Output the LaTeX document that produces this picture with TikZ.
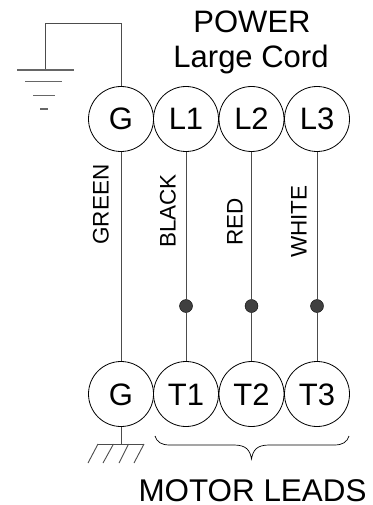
\documentclass[tikz,border=0pt]{standalone}
\usepackage{fontspec}
\setmainfont{Liberation Sans}
\usetikzlibrary{arrows.meta, positioning}

\begin{document}
\begin{tikzpicture}[
  x=1pt, y=-1pt,
  every node/.style={align=center},
  % Terminals - plain circles
  terminal/.style={circle, draw=black, line width=0.8pt, minimum size=65pt, inner sep=0pt, text height=22pt, text depth=0pt, font=\fontsize{31}{31}\selectfont},
  % Wires and ground strokes
  wire/.style={draw=black!70, line width=0.9pt},
  groundline/.style={draw=black!60, line width=1.1pt},
  % Junction dots
  joint/.style={circle, fill=black!75, draw=black, line width=0.4pt, minimum size=13pt, inner sep=0pt},
  wirelabel/.style={rotate=90, font=\fontsize{22.5}{22.5}\selectfont, inner sep=0pt},
  titlelabel/.style={anchor=base, font=\fontsize{31}{31}\selectfont, inner sep=0pt}
]
\useasboundingbox (0,0) rectangle (372,505);

% === NODES (Terminals) ===

% Power side
\node[terminal] (gtop) at (121, 119) {G};
\node[terminal] (l1) at (186, 119) {L1};
\node[terminal] (l2) at (251.5, 119) {L2};
\node[terminal] (l3) at (317, 119) {L3};

% Motor side
\node[terminal] (gbot) at (121, 394) {G};
\node[terminal] (t1) at (186, 394) {T1};
\node[terminal] (t2) at (251.5, 394) {T2};
\node[terminal] (t3) at (317, 394) {T3};

% Junction dots
\node[joint] (j1) at (186, 306) {};
\node[joint] (j2) at (251.5, 306) {};
\node[joint] (j3) at (317, 306) {};

% === LABELS ===

\node[titlelabel] (power) at (252, 33) {POWER};
\node[titlelabel] (cord) at (251, 68) {Large Cord};
\node[titlelabel, font=\fontsize{31.4}{31.4}\selectfont] (leads) at (252.5, 501) {MOTOR LEADS};

\node[wirelabel] (green) at (101, 204.5) {GREEN};
\node[wirelabel] (black) at (168, 211) {BLACK};
\node[wirelabel] (red) at (235, 222) {RED};
\node[wirelabel] (white) at (299, 221.5) {WHITE};

% === EDGES (Wires) ===

\draw[wire] (gtop.south) -- (gbot.north);
\draw[wire] (l1.south) -- (j1);
\draw[wire] (l2.south) -- (j2);
\draw[wire] (l3.south) -- (j3);
\draw[wire] (j1) -- (t1.north);
\draw[wire] (j2) -- (t2.north);
\draw[wire] (j3) -- (t3.north);

% Earth above
\coordinate (earth) at (45.5, 70);
\draw[wire] (gtop.north) |- (45.5, 23.5) -- (earth);
\draw[groundline] (17, 70) -- (74, 70);
\draw[groundline] (25, 81.5) -- (62, 81.5);
\draw[groundline] (33, 95.5) -- (54.5, 95.5);
\draw[groundline] (40, 109) -- (48, 109);

% Chassis ground below
\coordinate (chassis) at (121, 444);
\draw[wire] (gbot.south) -- (chassis);
\draw[wire] (98, 444) -- (144, 444);
\draw[wire] (98, 444) -- (88, 463);
\draw[wire] (113.5, 444) -- (103, 463);
\draw[wire] (128.5, 444) -- (119, 463);
\draw[wire] (144, 444) -- (134, 463);

% Brace under the leads
\draw[draw=black, line width=0.7pt] (155, 436) .. controls (157, 442) and (161, 445) .. (170, 445)
  -- (234, 445) .. controls (246, 445) and (250, 450) .. (251.5, 459)
  .. controls (253, 450) and (257, 445) .. (269, 445)
  -- (334, 445) .. controls (343, 445) and (347, 442) .. (349, 436);

\end{tikzpicture}
\end{document}
